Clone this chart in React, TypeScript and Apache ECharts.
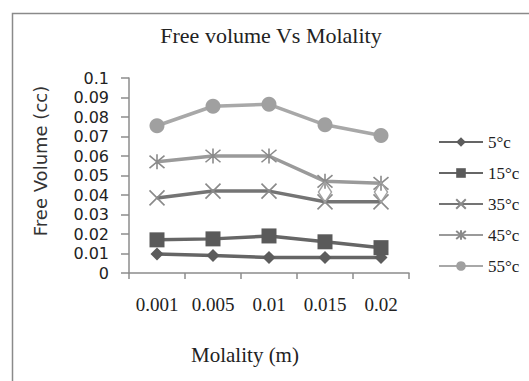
import React, { useEffect, useRef } from "react";
import * as echarts from "echarts";

const categories = ["0.001", "0.005", "0.01", "0.015", "0.02"];
const seriesNames = ["5°c", "15°c", "35°c", "45°c", "55°c"];
const v5 = [0.0097, 0.009, 0.008, 0.008, 0.008];
const v15 = [0.017, 0.0175, 0.019, 0.016, 0.013];
const v35 = [0.0385, 0.042, 0.042, 0.0365, 0.0365];
const v45 = [0.057, 0.06, 0.06, 0.047, 0.046];
const v55 = [0.0755, 0.0855, 0.0865, 0.076, 0.0705];
const vHidden = [null, null, null, 0.0415, 0.0415];
const yMin = 0;
const yMax = 0.1;
const yStep = 0.01;

const titleText = "Free volume Vs Molality";
const xName = "Molality (m)";
const yName = "Free Volume (cc)";

export default function App() {
  const ref = useRef<HTMLDivElement>(null);
  useEffect(() => {
    if (!ref.current) return;
    const chart = echarts.init(ref.current, undefined, { renderer: "svg" });
    const serif = "'Liberation Serif', 'Times New Roman', serif";
    const sans = "'DejaVu Sans', Verdana, sans-serif";
    const mk = (name: string, data: any[], color: string, lineColor: string, symbol: string, size: number, hollow = false) => ({
      name,
      type: "line",
      data,
      symbol,
      symbolSize: size,
      showAllSymbol: true,
      lineStyle: { color: lineColor, width: 3.5 },
      itemStyle: hollow
        ? { color: "rgba(0,0,0,0)", borderColor: color, borderWidth: 1.6 }
        : { color },
      z: 2,
    });
    chart.setOption({
      animation: false,
      backgroundColor: "#ffffff",
      grid: { left: 129, top: 78, right: 120, bottom: 108, containLabel: false },
      xAxis: {
        type: "category",
        data: categories,
        boundaryGap: true,
        axisLine: { lineStyle: { color: "#8c8c8c", width: 1.5 } },
        axisTick: { show: true, length: 6, alignWithLabel: false, lineStyle: { color: "#8c8c8c", width: 1.5 } },
        axisLabel: { color: "#222", fontFamily: serif, fontSize: 19, margin: 22 },
        splitLine: { show: false },
      },
      yAxis: {
        type: "value",
        min: yMin,
        max: yMax,
        interval: yStep,
        axisLine: { show: true, lineStyle: { color: "#8c8c8c", width: 1.5 } },
        axisTick: { show: true, length: 8, lineStyle: { color: "#8c8c8c", width: 1.5 } },
        axisLabel: {
          color: "#222",
          fontFamily: sans,
          fontSize: 16,
          margin: 20,
          formatter: (v: number) => String(+v.toFixed(2)),
        },
        splitLine: { show: false },
      },
      legend: {
        orient: "vertical",
        left: 433,
        top: 127,
        itemWidth: 44,
        itemHeight: 12,
        itemGap: 11,
        data: seriesNames,
        textStyle: { fontFamily: serif, fontSize: 17, color: "#222", lineHeight: 20 },
      },
      series: [
        mk(seriesNames[0], v5, "#5c5c5c", "#656565", "diamond", 13),
        mk(seriesNames[1], v15, "#5a5a5a", "#666666", "rect", 15),
        mk(seriesNames[2], v35, "#8a8a8a", "#747474", "path://M0,0L10,10M10,0L0,10", 15, true),
        mk(seriesNames[3], v45, "#8a8a8a", "#9a9a9a", "path://M0,0L10,10M10,0L0,10M5,-1L5,11", 15, true),
        mk(seriesNames[4], v55, "#a0a0a0", "#a8a8a8", "circle", 15),
        {
          name: "25°c",
          type: "line",
          data: vHidden,
          symbol: "diamond",
          symbolSize: [13, 20],
          showAllSymbol: true,
          lineStyle: { width: 0, opacity: 0 },
          itemStyle: { color: "rgba(255,255,255,0)", borderColor: "#a0a0a0", borderWidth: 1.5 },
          z: 3,
        },
      ],
      graphic: [
        {
          type: "rect",
          shape: { x: 12.5, y: 13.5, width: 700, height: 600 },
          style: { fill: "none", stroke: "#8a8a8a", lineWidth: 1.5 },
          silent: true,
        },
        {
          type: "text",
          x: 271,
          y: 35,
          style: { text: titleText, fontFamily: serif, fontSize: 22, fill: "#222", align: "center", verticalAlign: "middle" },
        },
        {
          type: "text",
          x: 245,
          y: 355,
          style: { text: xName, fontFamily: serif, fontSize: 21, fill: "#222", align: "center", verticalAlign: "middle" },
        },
        {
          type: "text",
          x: 40,
          y: 161,
          rotation: Math.PI / 2,
          style: { text: yName, fontFamily: sans, fontSize: 18, fill: "#333", align: "center", verticalAlign: "middle" },
        },
      ],
    });
    return () => chart.dispose();
  }, []);
  return <div ref={ref} style={{ position: "absolute", left: 0, top: 0, width: 529, height: 381 }} />;
}
